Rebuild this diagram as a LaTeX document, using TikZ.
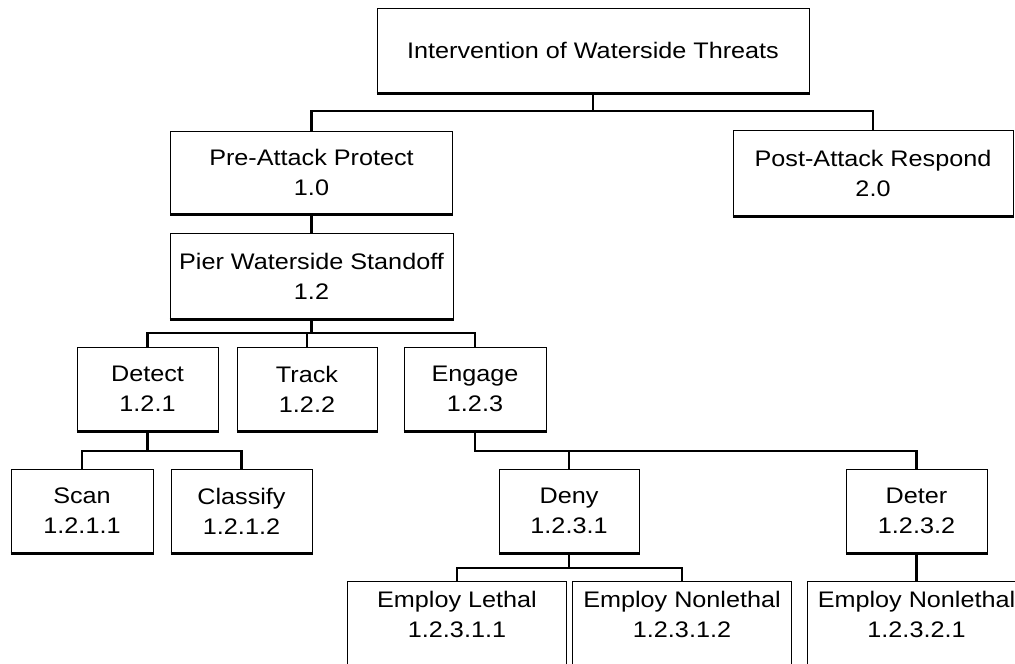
\documentclass[tikz,border=0pt]{standalone}
\usepackage{fontspec}
\setmainfont{Liberation Sans}[FakeStretch=1.12]
\begin{document}
\begin{tikzpicture}[x=1pt,y=-1pt,
  box/.style={draw, line width=1pt, align=center, inner sep=0pt,
    font=\fontsize{22.5}{30}\selectfont},
  openbox/.style={align=center, inner sep=0pt, font=\fontsize{22.5}{30}\selectfont},
  conn/.style={line width=2.5pt},
  base/.style={line width=2.2pt}]
\fill[white] (0,0) rectangle (1015,664);
\useasboundingbox (0,0) rectangle (1015,664);
\clip (0,0) rectangle (1015,664);

\node[box, minimum width=432, minimum height=85] (top) at (593,50.5) {Intervention of Waterside Threats};
\node[box, minimum width=282, minimum height=83] (pre) at (311.5,172.5) {Pre-Attack Protect\\1.0};
\node[box, minimum width=280, minimum height=86] (post) at (873,173) {Post-Attack Respond\\2.0};
\node[box, minimum width=283, minimum height=86] (pier) at (311.5,276) {Pier Waterside Standoff\\1.2};
\node[box, minimum width=141, minimum height=84] (detect) at (147.5,389) {Detect\\1.2.1};
\node[box, minimum width=140, minimum height=84] (track) at (307,389) {Track\\1.2.2};
\node[box, minimum width=142, minimum height=84] (engage) at (475,389) {Engage\\1.2.3};
\node[box, minimum width=142, minimum height=84] (scan) at (82,511) {Scan\\1.2.1.1};
\node[box, minimum width=141, minimum height=84] (classify) at (241.5,511) {Classify\\1.2.1.2};
\node[box, minimum width=140, minimum height=84] (deny) at (569,511) {Deny\\1.2.3.1};
\node[box, minimum width=141, minimum height=84] (deter) at (916.5,511) {Deter\\1.2.3.2};
\node[openbox, minimum width=218, minimum height=64] (lethal) at (457,614) {Employ Lethal\\1.2.3.1.1};
\node[openbox, minimum width=218, minimum height=64] (nonlA) at (682,614) {Employ Nonlethal\\1.2.3.1.2};
\node[openbox, minimum width=218, minimum height=64] (nonlB) at (916.5,614) {Employ Nonlethal\\1.2.3.2.1};

\foreach \n in {lethal,nonlA,nonlB}
  \draw[line width=1pt] (\n.north west) rectangle ([yshift=-80pt]\n.south east);

\foreach \n in {top,pre,post,pier,detect,track,engage,scan,classify,deny,deter}
  \draw[base] (\n.south west) -- (\n.south east);

\coordinate (j0) at (593,111);
\coordinate (j1) at (312,333);
\coordinate (j2) at (147.5,451);
\coordinate (j3) at (569,568);

\draw[conn] (top.south) -- (j0);
\draw[conn] (pre.north) -- (pre.north |- j0) -- (post.north |- j0) -- (post.north);
\draw[conn] (pre.south) -- (pier.north);
\draw[conn] (pier.south) -- (pier.south |- j1);
\draw[conn] (detect.north) -- (detect.north |- j1) -- (engage.north |- j1) -- (engage.north);
\draw[conn] (track.north) -- (track.north |- j1);
\draw[conn] (detect.south) -- (detect.south |- j2);
\draw[conn] (scan.north) -- (scan.north |- j2) -- (classify.north |- j2) -- (classify.north);
\draw[conn] (engage.south) -- (engage.south |- j2) -- (deter.north |- j2) -- (deter.north);
\draw[conn] (deny.north) -- (deny.north |- j2);
\draw[conn] (deny.south) -- (deny.south |- j3);
\draw[conn] (lethal.north) -- (lethal.north |- j3) -- (nonlA.north |- j3) -- (nonlA.north);
\draw[conn] (deter.south) -- (nonlB.north);
\end{tikzpicture}
\end{document}
